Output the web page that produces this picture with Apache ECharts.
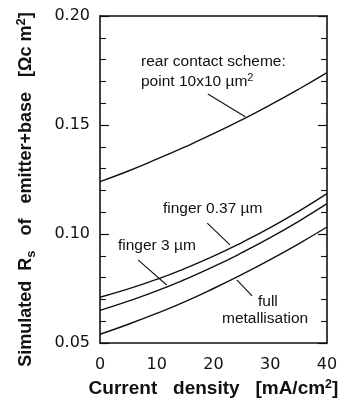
<!DOCTYPE html>
<html>
<head>
<meta charset="utf-8">
<script src="https://cdn.jsdelivr.net/npm/echarts@6/dist/echarts.min.js"></script>
<style>
html,body{margin:0;padding:0;background:#fff;}
#chart{width:347px;height:403px;}
</style>
</head>
<body>
<div id="chart"></div>
<script>
// Data
var currentDensity = [0, 5, 10, 15, 20, 25, 30, 35, 40];
var pointContact   = [0.1240, 0.1289, 0.1343, 0.1400, 0.1460, 0.1524, 0.1592, 0.1664, 0.1740];
var finger037      = [0.0710, 0.0748, 0.0792, 0.0842, 0.0898, 0.0961, 0.1029, 0.1104, 0.1185];
var finger3        = [0.0650, 0.0692, 0.0739, 0.0792, 0.0850, 0.0914, 0.0983, 0.1058, 0.1139];
var fullMetal      = [0.0540, 0.0586, 0.0636, 0.0690, 0.0750, 0.0814, 0.0882, 0.0955, 0.1032];
var xTicks = [0, 10, 20, 30, 40];
var yTicks = [0.05, 0.10, 0.15, 0.20];

// leader lines (data coordinates): [from, to]
var leaders = [
  [[19.0, 0.1642], [25.6, 0.1538]],
  [[18.9, 0.1050], [22.9, 0.0950]],
  [[6.7, 0.0881], [11.75, 0.0766]],
  [[24.1, 0.0790], [26.8, 0.0716]]
];

function pairs(xs, ys){ return xs.map(function(x,i){ return [x, ys[i]]; }); }

var chart = echarts.init(document.getElementById('chart'), null, {renderer:'canvas'});
var lineStyle = {color:'#111', width:1.4};
function mkSeries(name, ys){
  return {name:name, type:'line', data:pairs(currentDensity, ys), smooth:true,
    showSymbol:false, symbol:'none', lineStyle:lineStyle, silent:true, animation:false};
}
var series = [
  mkSeries('point 10x10 µm²', pointContact),
  mkSeries('finger 0.37 µm', finger037),
  mkSeries('finger 3 µm', finger3),
  mkSeries('full metallisation', fullMetal)
];
series.push({
  type:'line', data:[], silent:true, animation:false,
  markLine:{symbol:'none', silent:true, animation:false, label:{show:false},
    lineStyle:{color:'#111', width:1.1, type:'solid'},
    data: leaders.map(function(l){ return [{coord:l[0]},{coord:l[1]}]; })}
});

var tickFont = {fontFamily:'DejaVu Sans', fontSize:16, color:'#111'};
var annFont = {fontFamily:'Liberation Sans', fontSize:15.5, fill:'#111'};
var axisLn = {show:true, onZero:false, lineStyle:{color:'#111', width:1.6}};
var yTick = {show:true, inside:true, length:9, lineStyle:{color:'#111', width:1.2}};
var yMinor = {show:true, splitNumber:5, length:6, lineStyle:{color:'#111', width:1.1}};

chart.setOption({
  animation:false,
  grid:{left:100, right:20, top:16, bottom:60, containLabel:false, outerBoundsMode:'none'},
  xAxis:[{type:'value', min:xTicks[0], max:xTicks[xTicks.length-1], interval:10, position:'bottom',
    axisLine:axisLn, axisTick:{show:false}, splitLine:{show:false},
    axisLabel:Object.assign({margin:14}, tickFont),
    name:'Current   density   [mA/cm{sup|2}]', nameLocation:'middle', nameGap:32,
    nameTextStyle:{fontFamily:'Liberation Sans', fontWeight:'bold', fontSize:19, color:'#111',
      rich:{sup:{fontFamily:'Liberation Sans', fontWeight:'bold', fontSize:12.5, color:'#111', padding:[0,0,8,0]}}}
  },{type:'value', min:xTicks[0], max:xTicks[xTicks.length-1], interval:10, position:'top',
    axisLine:axisLn, axisTick:{show:false}, splitLine:{show:false}, axisLabel:{show:false}
  }],
  yAxis:[{type:'value', min:yTicks[0], max:yTicks[yTicks.length-1], interval:0.05, position:'left',
    axisLine:axisLn, axisTick:yTick, minorTick:yMinor, splitLine:{show:false}, minorSplitLine:{show:false},
    axisLabel:Object.assign({margin:10, formatter:function(v){return v.toFixed(2);}}, tickFont),
    name:'Simulated  R{sub|s}   of   emitter+base   [Ωc m{sup|2}]    ', nameLocation:'middle', nameGap:62,
    nameTextStyle:{fontFamily:'Liberation Sans', fontWeight:'bold', fontSize:18, color:'#111',
      rich:{sub:{fontFamily:'Liberation Sans', fontWeight:'bold', fontSize:13, color:'#111', padding:[10,0,0,0]},
            sup:{fontFamily:'Liberation Sans', fontWeight:'bold', fontSize:13, color:'#111', padding:[0,0,10,0]}}}
  },{type:'value', min:yTicks[0], max:yTicks[yTicks.length-1], interval:0.05, position:'right',
    axisLine:axisLn, axisTick:yTick, minorTick:yMinor, splitLine:{show:false}, minorSplitLine:{show:false},
    axisLabel:{show:false}
  }],
  series:series,
  graphic:[
    {type:'text', left:141, top:54, style:Object.assign({text:'rear contact scheme:'}, annFont)},
    {type:'text', left:141, top:72, style:{text:'point 10x10 µm{sup|2}', font:'15.5px "Liberation Sans"', fill:'#111',
      rich:{sup:{fontSize:11, fontFamily:'Liberation Sans', fill:'#111', padding:[0,0,8,0]}}}},
    {type:'text', left:163, top:201, style:Object.assign({text:'finger 0.37 µm'}, annFont)},
    {type:'text', left:118, top:238, style:Object.assign({text:'finger 3 µm'}, annFont)},
    {type:'text', left:258, top:294, style:Object.assign({text:'full'}, annFont)},
    {type:'text', left:222, top:311, style:Object.assign({text:'metallisation'}, annFont)}
  ]
});
</script>
</body>
</html>
